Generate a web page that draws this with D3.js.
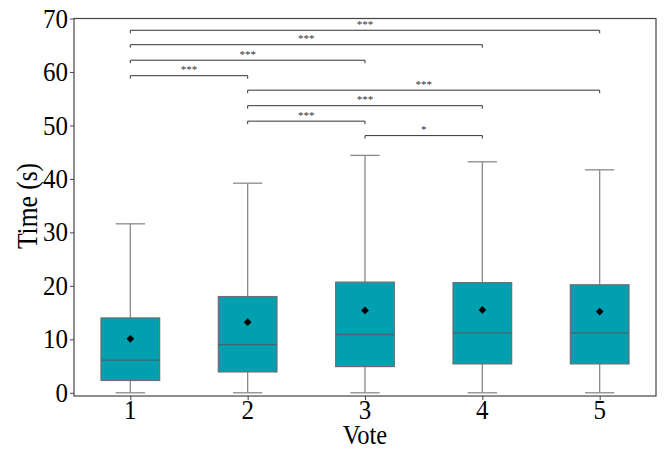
<!DOCTYPE html>
<html><head><meta charset="utf-8">
<script src="https://cdn.jsdelivr.net/npm/d3@7"></script>
<style>body{margin:0;background:#fff}svg{display:block}text{font-family:"Liberation Serif","Times New Roman",serif}</style>
</head><body><svg id="c" width="664" height="449"></svg>
<script>
const votes = [1, 2, 3, 4, 5];
const whiskerLow = [0, 0, 0, 0, 0];
const q1 = [2.3, 3.9, 4.9, 5.4, 5.4];
const median = [6.1, 9.0, 10.9, 11.2, 11.2];
const q3 = [14.0, 18.0, 20.7, 20.6, 20.2];
const whiskerHigh = [31.6, 39.2, 44.4, 43.2, 41.7];
const mean = [10.1, 13.2, 15.4, 15.5, 15.2];
const yTicks = [0, 10, 20, 30, 40, 50, 60, 70];
const pairs = [[1,5],[1,4],[1,3],[1,2],[2,5],[2,4],[2,3],[3,4]];
const pairLabels = ["***","***","***","***","***","***","***","*"];
const pairHeights = [67.8, 65.1, 62.2, 59.3, 56.6, 53.7, 50.8, 48.1];

const L = 74, R = 656, T = 18.5, B = 396;
const svg = d3.select("#c");
const x = d3.scaleLinear().domain([0.52, 5.48]).range([L, R]);
const y = d3.scaleLinear().domain([-0.6, 70]).range([B, T]);
const boxW = x(1.25) - x(1), capW = x(1.125) - x(1);

// axes (ticks only; labels drawn with slight vertical stretch)
const gx = svg.append("g").attr("transform", `translate(0,${B})`)
  .call(d3.axisBottom(x).tickValues(votes).tickFormat("").tickSize(4));
const gy = svg.append("g").attr("transform", `translate(${L},0)`)
  .call(d3.axisLeft(y).tickValues(yTicks).tickFormat("").tickSize(4));
[gx, gy].forEach(g => {
  g.select(".domain").remove();
  g.selectAll(".tick line").attr("stroke", "#444");
});
svg.append("g").selectAll("text").data(votes).join("text")
  .attr("transform", d => `translate(${x(d)},418.5) scale(1,1.1)`)
  .attr("text-anchor", "middle").attr("font-size", 25).attr("fill", "#000")
  .text(d3.format("d"));
svg.append("g").selectAll("text").data(yTicks).join("text")
  .attr("transform", d => `translate(68,${y(d)}) scale(1,1.1)`)
  .attr("dy", "0.33em").attr("text-anchor", "end").attr("font-size", 25).attr("fill", "#000")
  .text(d3.format("d"));

// boxes
const gb = svg.append("g");
const wc = "#8a8a8a";
votes.forEach((v, i) => {
  const cx = x(v);
  gb.append("line").attr("x1", cx).attr("x2", cx).attr("y1", y(q3[i])).attr("y2", y(whiskerHigh[i]))
    .attr("stroke", wc).attr("stroke-width", 1.3);
  gb.append("line").attr("x1", cx).attr("x2", cx).attr("y1", y(q1[i])).attr("y2", y(whiskerLow[i]))
    .attr("stroke", wc).attr("stroke-width", 1.3);
  gb.append("line").attr("x1", cx - capW).attr("x2", cx + capW).attr("y1", y(whiskerHigh[i])).attr("y2", y(whiskerHigh[i]))
    .attr("stroke", wc).attr("stroke-width", 1.3);
  gb.append("line").attr("x1", cx - capW).attr("x2", cx + capW).attr("y1", y(whiskerLow[i])).attr("y2", y(whiskerLow[i]))
    .attr("stroke", wc).attr("stroke-width", 1.3);
  gb.append("rect").attr("x", cx - boxW).attr("width", 2 * boxW)
    .attr("y", y(q3[i])).attr("height", y(q1[i]) - y(q3[i]))
    .attr("fill", "#00a0b1").attr("stroke", "#6e6e6e").attr("stroke-width", 1.2);
  gb.append("line").attr("x1", cx - boxW).attr("x2", cx + boxW).attr("y1", y(median[i])).attr("y2", y(median[i]))
    .attr("stroke", "#3e6870").attr("stroke-width", 1.3);
  gb.append("path").attr("d", d3.symbol(d3.symbolSquare, 30)())
    .attr("transform", `translate(${cx},${y(mean[i])}) rotate(45)`).attr("fill", "#000");
});

// frame
svg.append("rect").attr("x", L).attr("y", T).attr("width", R - L).attr("height", B - T)
  .attr("fill", "none").attr("stroke", "#444").attr("stroke-width", 1.2);

// significance brackets
const ga = svg.append("g");
pairs.forEach((p, i) => {
  const x1 = x(p[0]), x2 = x(p[1]), yy = y(pairHeights[i]);
  ga.append("path").attr("d", `M${x1},${yy + 3}V${yy}H${x2}V${yy + 3}`)
    .attr("fill", "none").attr("stroke", "#333").attr("stroke-width", 1);
  ga.append("text").attr("x", (x1 + x2) / 2).attr("y", yy - 2.5).attr("text-anchor", "middle")
    .attr("font-size", 11).attr("fill", "#333").text(pairLabels[i]);
});

// axis titles
svg.append("text").attr("transform", `translate(${(L + R) / 2},443.5) scale(1,1.08)`).attr("text-anchor", "middle")
  .attr("font-size", 24.5).text("Vote");
svg.append("text").attr("transform", `translate(36.5,206) rotate(-90) scale(1,1.15)`).attr("text-anchor", "middle")
  .attr("font-size", 25.5).text("Time (s)");
</script></body></html>
